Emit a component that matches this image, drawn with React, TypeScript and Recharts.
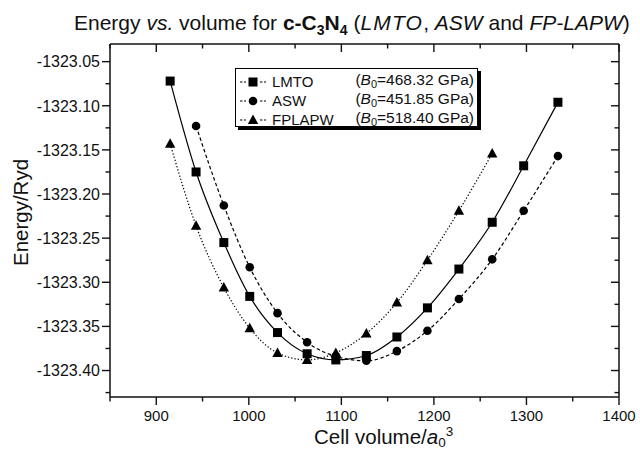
import React from 'react';
import { LineChart, Line, XAxis, YAxis, Legend } from 'recharts';

// Cell volume (a0^3) at which total energies were computed
const volumes = [915, 943, 973, 1001, 1031, 1063, 1094, 1127, 1160, 1193, 1227, 1263, 1297, 1334];

// Total energies (Ryd) per method
const lmtoEnergy = [
  -1323.072, -1323.175, -1323.255, -1323.316, -1323.357, -1323.381, -1323.388,
  -1323.383, -1323.362, -1323.329, -1323.285, -1323.232, -1323.168, -1323.096,
];
const aswEnergy = [
  null, -1323.123, -1323.213, -1323.283, -1323.335, -1323.368, -1323.384,
  -1323.389, -1323.378, -1323.355, -1323.319, -1323.274, -1323.219, -1323.157,
];
const fplapwEnergy = [
  -1323.143, -1323.236, -1323.306, -1323.352, -1323.380, -1323.388, -1323.380,
  -1323.358, -1323.323, -1323.275, -1323.219, -1323.154, null, null,
];

const seriesNames = ['LMTO', 'ASW', 'FPLAPW'];
const bulkModuli = ['468.32', '451.85', '518.40'];

const xMajorTicks = [900, 1000, 1100, 1200, 1300, 1400];
const xMinorTicks = [850, 950, 1050, 1150, 1250, 1350];
const yMajorTicks = [-1323.4, -1323.35, -1323.3, -1323.25, -1323.2, -1323.15, -1323.1, -1323.05];
const yMinorTicks = [-1323.425, -1323.375, -1323.325, -1323.275, -1323.225, -1323.175, -1323.125, -1323.075];
const xDomain = [850, 1400];
const yDomain = [-1323.43, -1323.03];

const rows = volumes.map((v, i) => ({
  v,
  lmto: lmtoEnergy[i],
  asw: aswEnergy[i],
  fplapw: fplapwEnergy[i],
}));

const FONT = '"Liberation Sans", Arial, Helvetica, sans-serif';
const INK = '#111';

const isIn = (list: number[], v: number) => list.some((t) => Math.abs(t - v) < 1e-6);

const MAJOR = 8;
const MINOR = 4.5;

function BottomTick(props: any) {
  const { x, y, payload } = props;
  const major = isIn(xMajorTicks, payload.value);
  return (
    <g>
      <line x1={x} x2={x} y1={y} y2={y + (major ? MAJOR : MINOR)} stroke={INK} strokeWidth={1.4} />
      {major && (
        <text x={x} y={y + 24} textAnchor="middle" fontFamily={FONT} fontSize={15} fill={INK}>
          {payload.value}
        </text>
      )}
    </g>
  );
}

function TopTick(props: any) {
  const { x, y, payload } = props;
  const major = isIn(xMajorTicks, payload.value);
  return <line x1={x} x2={x} y1={y} y2={y + (major ? MAJOR : MINOR)} stroke={INK} strokeWidth={1.4} />;
}

function LeftTick(props: any) {
  const { x, y, payload } = props;
  const major = isIn(yMajorTicks, payload.value);
  return (
    <g>
      <line x1={x} x2={x - (major ? MAJOR : MINOR)} y1={y} y2={y} stroke={INK} strokeWidth={1.4} />
      {major && (
        <text x={x - 10} y={y} dy="0.36em" textAnchor="end" fontFamily={FONT} fontSize={16} fill={INK}>
          {payload.value.toFixed(2)}
        </text>
      )}
    </g>
  );
}

function RightTick(props: any) {
  const { x, y, payload } = props;
  const major = isIn(yMajorTicks, payload.value);
  return <line x1={x} x2={x - (major ? MAJOR : MINOR)} y1={y} y2={y} stroke={INK} strokeWidth={1.4} />;
}

function SquareDot(props: any) {
  const { cx, cy, value } = props;
  if (cx == null || cy == null || value == null) return <g />;
  return <rect x={cx - 4.5} y={cy - 4.5} width={9} height={9} fill="#000" />;
}

function CircleDot(props: any) {
  const { cx, cy, value } = props;
  if (cx == null || cy == null || value == null) return <g />;
  return <circle cx={cx} cy={cy} r={4.3} fill="#000" />;
}

function TriangleDot(props: any) {
  const { cx, cy, value } = props;
  if (cx == null || cy == null || value == null) return <g />;
  return <polygon points={`${cx},${cy - 5.5} ${cx + 5.2},${cy + 4} ${cx - 5.2},${cy + 4}`} fill="#000" />;
}

const dashes = ['', '3.5 2.5', '1.3 2'];

function LegendMarker({ index }: { index: number }) {
  return (
    <svg width={28} height={14} style={{ display: 'block' }}>
      <line x1={1} x2={7} y1={7} y2={7} stroke="#000" strokeWidth={1.1} strokeDasharray="2.5 1.5" />
      <line x1={21} x2={27} y1={7} y2={7} stroke="#000" strokeWidth={1.1} strokeDasharray="2.5 1.5" />
      {index === 0 && <rect x={9.5} y={2.5} width={9} height={9} fill="#000" />}
      {index === 1 && <circle cx={14} cy={7} r={4.3} fill="#000" />}
      {index === 2 && <polygon points="14,1.5 19.2,11 8.8,11" fill="#000" />}
    </svg>
  );
}

function LegendBox(props: any) {
  const payload = props.payload || [];
  return (
    <div
      style={{
        width: 243,
        height: 59,
        border: '1.3px solid #000',
        boxShadow: '3px 3px 0 #000',
        background: '#fff',
        paddingTop: 3,
        boxSizing: 'border-box',
        fontFamily: FONT,
        color: INK,
      }}
    >
      {seriesNames.map((name, i) => {
        const entry = payload.find((p: any) => p.value === name);
        return (
          <div key={name} style={{ display: 'flex', alignItems: 'center', height: 19, lineHeight: '19px' }}>
            <div style={{ width: 34, paddingLeft: 3, boxSizing: 'border-box' }}>
              <LegendMarker index={i} />
            </div>
            <span style={{ marginLeft: 2, fontSize: 15 }}>{entry ? entry.value : name}</span>
            <span style={{ marginLeft: 'auto', marginRight: 3, whiteSpace: 'nowrap', fontSize: 15.5 }}>
              (<i>B</i>
              <sub style={{ fontSize: 11, verticalAlign: '-3px' }}>0</sub>={bulkModuli[i]} GPa)
            </span>
          </div>
        );
      })}
    </div>
  );
}

export default function App() {
  const W = 640;
  const H = 451;
  const allX = [...xMinorTicks, ...xMajorTicks].sort((a, b) => a - b);
  const allY = [...yMinorTicks, ...yMajorTicks].sort((a, b) => a - b);
  return (
    <div style={{ position: 'absolute', left: 0, top: 0, width: W, height: H, background: '#fff' }}>
      <LineChart width={W} height={H} data={rows} margin={{ top: 43, right: 20, bottom: 53, left: 109 }}>
        <XAxis
          xAxisId="bottom"
          dataKey="v"
          type="number"
          orientation="bottom"
          domain={xDomain}
          allowDataOverflow
          ticks={allX}
          interval={0}
          height={1}
          tickSize={0}
          tickMargin={0}
          tickLine={false}
          tick={<BottomTick />}
          axisLine={{ stroke: INK, strokeWidth: 1.5 }}
        />
        <XAxis
          xAxisId="top"
          dataKey="v"
          type="number"
          orientation="top"
          domain={xDomain}
          allowDataOverflow
          ticks={allX}
          interval={0}
          height={1}
          tickSize={0}
          tickMargin={0}
          tickLine={false}
          tick={<TopTick />}
          axisLine={{ stroke: INK, strokeWidth: 1.5 }}
        />
        <YAxis
          yAxisId="left"
          type="number"
          orientation="left"
          domain={yDomain}
          allowDataOverflow
          ticks={allY}
          interval={0}
          width={1}
          tickSize={0}
          tickMargin={0}
          tickLine={false}
          tick={<LeftTick />}
          axisLine={{ stroke: INK, strokeWidth: 1.5 }}
        />
        <YAxis
          yAxisId="right"
          type="number"
          orientation="right"
          domain={yDomain}
          allowDataOverflow
          ticks={allY}
          interval={0}
          width={1}
          tickSize={0}
          tickMargin={0}
          tickLine={false}
          tick={<RightTick />}
          axisLine={{ stroke: INK, strokeWidth: 1.5 }}
        />
        <Legend
          layout="vertical"
          align="center"
          verticalAlign="middle"
          content={<LegendBox />}
          wrapperStyle={{ left: 235, top: 68, width: 247, height: 63 }}
        />
        <Line
          xAxisId="bottom"
          yAxisId="left"
          name="LMTO"
          dataKey="lmto"
          type="monotone"
          stroke="#000"
          strokeWidth={1.2}
          dot={<SquareDot />}
          activeDot={false}
          connectNulls
          isAnimationActive={false}
        />
        <Line
          xAxisId="bottom"
          yAxisId="left"
          name="ASW"
          dataKey="asw"
          type="monotone"
          stroke="#000"
          strokeWidth={1.2}
          strokeDasharray={dashes[1]}
          dot={<CircleDot />}
          activeDot={false}
          connectNulls
          isAnimationActive={false}
        />
        <Line
          xAxisId="bottom"
          yAxisId="left"
          name="FPLAPW"
          dataKey="fplapw"
          type="monotone"
          stroke="#000"
          strokeWidth={1.2}
          strokeDasharray={dashes[2]}
          dot={<TriangleDot />}
          activeDot={false}
          connectNulls
          isAnimationActive={false}
        />
      </LineChart>
      <svg
        width={W}
        height={H}
        style={{ position: 'absolute', left: 0, top: 0, pointerEvents: 'none', overflow: 'visible' }}
      >
        <text x={74} y={30} fontFamily={FONT} fontSize={21} fill={INK}>
          <tspan>Energy </tspan>
          <tspan fontStyle="italic">vs.</tspan>
          <tspan> volume for </tspan>
          <tspan fontWeight="bold">c-C</tspan>
          <tspan fontWeight="bold" fontSize={14} dy={5}>3</tspan>
          <tspan fontWeight="bold" dy={-5}>N</tspan>
          <tspan fontWeight="bold" fontSize={14} dy={5}>4</tspan>
          <tspan dy={-5}> (</tspan>
          <tspan fontStyle="italic" letterSpacing={1.2}>LMTO</tspan>
          <tspan>, </tspan>
          <tspan fontStyle="italic">ASW</tspan>
          <tspan> and </tspan>
          <tspan fontStyle="italic">FP-LAPW</tspan>
          <tspan>)</tspan>
        </text>
        <text
          x={27.5}
          y={212.5}
          transform="rotate(-90, 27.5, 212.5)"
          textAnchor="middle"
          fontFamily={FONT}
          fontSize={20.5}
          fill={INK}
        >
          Energy/Ryd
        </text>
        <text x={314} y={444} fontFamily={FONT} fontSize={20.5} fill={INK}>
          <tspan>Cell volume/</tspan>
          <tspan fontStyle="italic">a</tspan>
          <tspan fontSize={13.5} dy={3}>0</tspan>
          <tspan fontSize={13.5} dy={-11}>3</tspan>
        </text>
      </svg>
    </div>
  );
}
